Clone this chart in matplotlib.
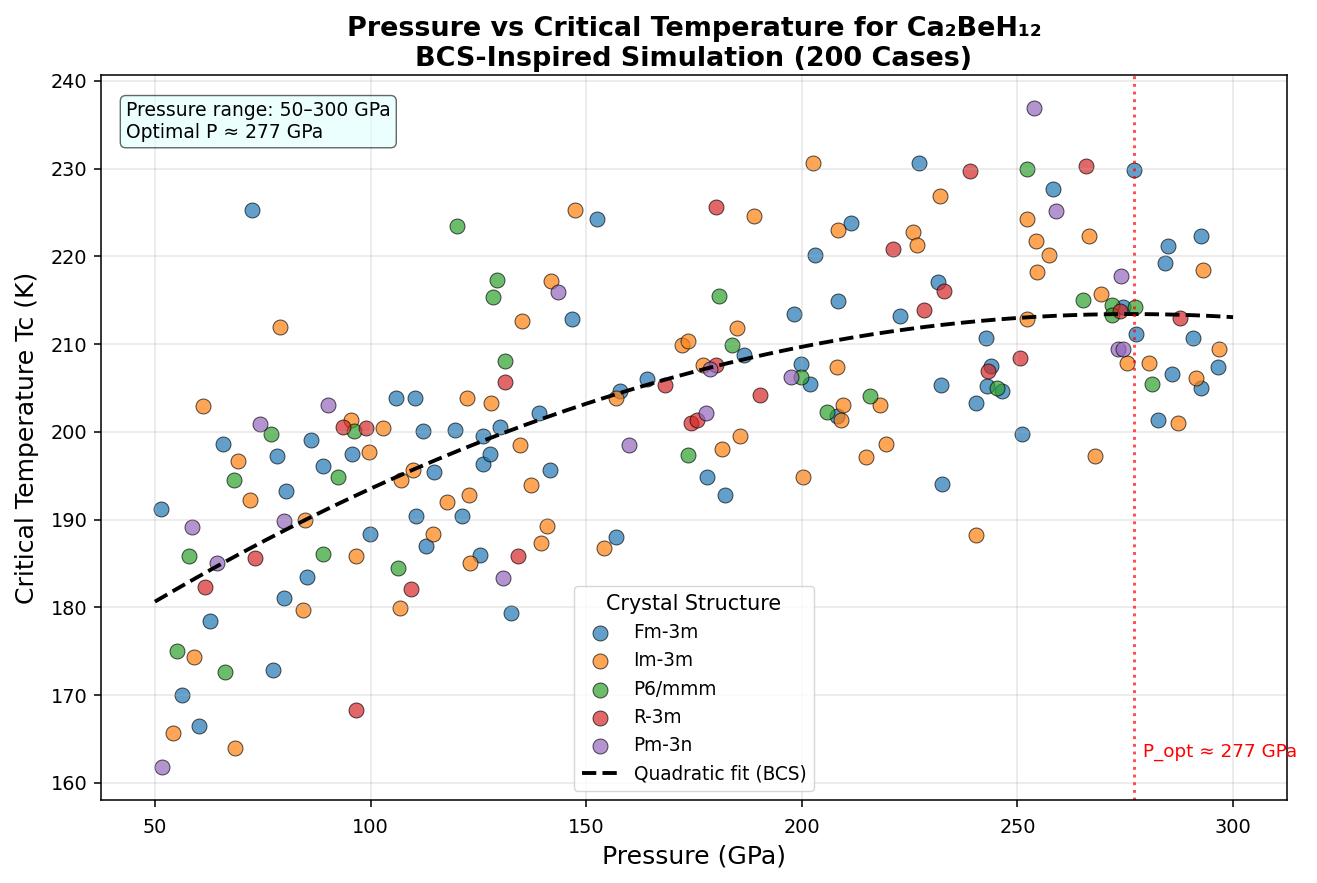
import numpy as np
import matplotlib
matplotlib.use("Agg")
import matplotlib.pyplot as plt

structures = ["Fm-3m", "Im-3m", "P6/mmm", "R-3m", "Pm-3n"]
colors = ["#1f77b4", "#ff7f0e", "#2ca02c", "#d62728", "#9467bd"]

fm3m_P = [51.4, 72.5, 56.3, 60.2, 62.8, 65.8, 77.4, 78.3, 79.9, 80.4, 85.3, 86.2, 89.0, 95.7, 99.9,
          105.8, 110.4, 110.6, 112.2, 112.9, 114.8, 119.6, 121.3, 125.4, 126.1, 126.1, 127.8, 130.1,
          132.6, 139.1, 141.5, 146.7, 152.6, 156.8, 157.9, 164.0, 178.1, 182.3, 186.7, 198.1, 199.7,
          201.8, 203.0, 208.3, 208.1, 211.3, 222.7, 227.1, 231.5, 232.2, 232.5, 240.3, 242.7, 242.9,
          243.8, 246.4, 251.0, 258.2, 274.5, 277.0, 277.5, 282.6, 284.2, 284.9, 285.8, 290.7, 292.6,
          292.6, 296.5]
fm3m_T = [191.2, 225.3, 170.0, 166.5, 178.4, 198.6, 172.9, 197.2, 181.1, 193.3, 183.5, 199.1, 196.1,
          197.5, 188.3, 203.9, 203.9, 190.4, 200.1, 187.0, 195.4, 200.2, 190.4, 186.0, 196.3, 199.5,
          197.5, 200.6, 179.4, 202.2, 195.7, 212.9, 224.3, 188.0, 204.7, 206.0, 194.9, 192.8, 208.7,
          213.4, 207.7, 205.4, 220.1, 214.9, 201.8, 223.8, 213.2, 230.6, 217.1, 205.3, 194.0, 203.3,
          210.7, 205.2, 207.5, 204.6, 199.8, 227.7, 214.2, 229.8, 211.2, 201.3, 219.2, 221.2, 206.6,
          210.7, 205.0, 222.3, 207.4]

im3m_P = [54.2, 59.1, 61.1, 68.6, 69.3, 72.1, 79.0, 84.4, 84.8, 95.5, 96.7, 99.7, 102.9, 106.9, 107.1,
          109.9, 114.5, 117.8, 122.4, 122.9, 123.1, 128.0, 134.7, 135.2, 137.3, 139.6, 141.0, 141.9,
          147.3, 154.2, 157.0, 172.3, 173.5, 177.0, 181.4, 184.9, 185.6, 188.8, 200.2, 202.5, 208.1,
          208.3, 209.0, 209.5, 215.0, 218.1, 219.5, 225.7, 226.6, 232.0, 240.3, 252.2, 252.2, 254.3,
          254.5, 257.3, 266.6, 268.0, 269.4, 275.4, 280.5, 287.2, 291.4, 293.0, 296.8]
im3m_T = [165.7, 174.3, 202.9, 164.0, 196.7, 192.2, 211.9, 179.7, 190.0, 201.3, 185.8, 197.7, 200.4,
          179.9, 194.5, 195.6, 188.4, 192.0, 203.8, 192.8, 185.0, 203.3, 198.5, 212.6, 193.9, 187.3,
          189.3, 217.2, 225.3, 186.8, 203.8, 209.9, 210.4, 207.6, 198.0, 211.8, 199.5, 224.6, 194.9,
          230.6, 207.4, 223.0, 201.3, 203.0, 197.1, 203.0, 198.6, 222.8, 221.3, 226.9, 188.2, 224.3,
          212.9, 221.8, 218.2, 220.1, 222.3, 197.3, 215.7, 207.8, 207.8, 201.0, 206.1, 218.4, 209.4]

p6mmm_P = [55.1, 57.9, 66.2, 68.3, 76.9, 89.0, 92.5, 96.2, 106.4, 120.1, 128.5, 129.4, 131.2, 173.7,
           180.7, 183.9, 199.7, 205.8, 215.7, 245.2, 252.2, 265.2, 271.9, 271.9, 277.3, 281.2]
p6mmm_T = [175.0, 185.8, 172.6, 194.5, 199.8, 186.1, 194.9, 200.1, 184.5, 223.5, 215.4, 217.3, 208.1,
           197.4, 215.5, 209.9, 206.2, 202.3, 204.1, 205.0, 229.9, 215.0, 214.4, 213.3, 214.2, 205.5]

r3m_P = [61.6, 73.2, 93.6, 96.7, 99.0, 109.4, 131.2, 134.3, 168.2, 174.4, 175.6, 180.0, 180.0, 190.4,
         221.1, 228.3, 232.9, 239.0, 243.1, 250.6, 265.9, 273.8, 287.7]
r3m_T = [182.3, 185.6, 200.5, 168.3, 200.4, 182.1, 205.7, 185.8, 205.3, 201.0, 201.4, 225.6, 207.6,
         204.2, 220.8, 213.9, 216.1, 229.7, 206.9, 208.4, 230.3, 213.8, 213.0]

pm3n_P = [51.6, 58.6, 64.4, 74.4, 79.9, 90.2, 130.8, 143.5, 160.0, 177.9, 178.6, 197.6, 253.8, 258.9,
          273.3, 274.0, 274.5]
pm3n_T = [161.8, 189.1, 185.0, 200.9, 189.8, 203.1, 183.3, 215.9, 198.5, 202.2, 207.2, 206.3, 236.9,
          225.2, 209.4, 217.8, 209.4]

groups_P = [fm3m_P, im3m_P, p6mmm_P, r3m_P, pm3n_P]
groups_T = [fm3m_T, im3m_T, p6mmm_T, r3m_T, pm3n_T]

P_min, P_max = 50, 300
P_opt = 277

k = 1.39  # scale factor
fig = plt.figure(figsize=(13.17, 8.83), dpi=100)
ax = fig.add_axes([0.0767, 0.094, 0.9005, 0.821])

for name, c, px, ty in zip(structures, colors, groups_P, groups_T):
    ax.scatter(px, ty, s=60 * k * k, color=c, alpha=0.7, edgecolors="black",
               linewidths=0.5 * k, label=name)

allP = np.concatenate([np.array(p) for p in groups_P])
allT = np.concatenate([np.array(t) for t in groups_T])
coef = np.polyfit(allP, allT, 2)
xs = np.linspace(P_min, P_max, 300)
ax.plot(xs, np.polyval(coef, xs), "k--", linewidth=2 * k, label="Quadratic fit (BCS)")

ax.axvline(P_opt, color="red", linestyle=":", linewidth=1.5 * k, alpha=0.7)
ax.text(P_opt + 2, 163, f"P_opt ≈ {P_opt} GPa", color="red", fontsize=9.5 * k)

ax.text(0.021, 0.964, f"Pressure range: {P_min}–{P_max} GPa\nOptimal P ≈ {P_opt} GPa",
        transform=ax.transAxes, fontsize=9.7 * k, va="top", ha="left",
        bbox=dict(boxstyle="round", facecolor="lightcyan", alpha=0.6, edgecolor="black"))

ax.set_xlabel("Pressure (GPa)", fontsize=13 * k, labelpad=4 * k)
ax.set_ylabel("Critical Temperature Tc (K)", fontsize=13 * k, labelpad=4 * k + 3)
ax.set_title("Pressure vs Critical Temperature for Ca₂BeH₁₂\nBCS-Inspired Simulation (200 Cases)",
             fontsize=14 * k, fontweight="bold", pad=6 * k - 2)
ax.tick_params(labelsize=10 * k, width=0.8 * k, length=3.5 * k, pad=3.5 * k)
ax.tick_params(axis="x", pad=3.5 * k + 3)
for sp in ax.spines.values():
    sp.set_linewidth(0.8 * k)
ax.grid(True, alpha=0.3, linewidth=0.8 * k)
leg = ax.legend(title="Crystal Structure", loc="lower center", fontsize=9.6 * k,
                title_fontsize=10.7 * k, borderaxespad=0.5)

fig.savefig("out.png", dpi=100)
